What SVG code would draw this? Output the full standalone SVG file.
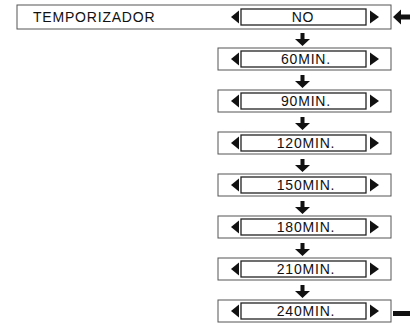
<svg xmlns="http://www.w3.org/2000/svg" width="410" height="325" viewBox="0 0 410 325">
<style>
.outer{fill:none;stroke:#555;stroke-width:1}
.inner{fill:#fff;stroke:#222;stroke-width:1.3}
.tri{fill:#111}
.lbl{font-family:"Liberation Sans",Arial,sans-serif;font-size:14px;fill:#111;letter-spacing:0.8px}
.val{font-family:"Liberation Sans",Arial,sans-serif;font-size:14px;fill:#111;text-anchor:middle;letter-spacing:0.8px}
.arr{fill:#111}
</style>
<defs>
<g id="sel">
<polygon class="tri" points="231,0 239,-6.5 239,6.5"/>
<rect class="inner" x="241" y="-8" width="125" height="16"/>
<polygon class="tri" points="370,-6.5 370,6.5 379,0"/>
</g>
<path id="down" d="M300.5,0 h4 v6 h5.5 l-7.5,7 l-7.5,-7 h5.5 z"/>
</defs>
<g id="timer-panel">
<rect class="outer" x="17" y="5" width="374" height="24"/>
<text class="lbl" x="33" y="22">TEMPORIZADOR</text>
<use href="#sel" transform="translate(0,17)"/>
<text class="val" x="303" y="22">NO</text>
</g>
<g id="opt-60">
<rect class="outer" x="218" y="48" width="173" height="22"/>
<use href="#sel" transform="translate(0,59)"/>
<text class="val" x="306" y="64">60MIN.</text>
</g>
<g id="opt-90">
<rect class="outer" x="218" y="90" width="173" height="22"/>
<use href="#sel" transform="translate(0,101)"/>
<text class="val" x="306" y="106">90MIN.</text>
</g>
<g id="opt-120">
<rect class="outer" x="218" y="132" width="173" height="22"/>
<use href="#sel" transform="translate(0,143)"/>
<text class="val" x="306" y="148">120MIN.</text>
</g>
<g id="opt-150">
<rect class="outer" x="218" y="174" width="173" height="22"/>
<use href="#sel" transform="translate(0,185)"/>
<text class="val" x="306" y="190">150MIN.</text>
</g>
<g id="opt-180">
<rect class="outer" x="218" y="216" width="173" height="22"/>
<use href="#sel" transform="translate(0,227)"/>
<text class="val" x="306" y="232">180MIN.</text>
</g>
<g id="opt-210">
<rect class="outer" x="218" y="258" width="173" height="22"/>
<use href="#sel" transform="translate(0,269)"/>
<text class="val" x="306" y="274">210MIN.</text>
</g>
<g id="opt-240">
<rect class="outer" x="218" y="300" width="173" height="22"/>
<use href="#sel" transform="translate(0,311)"/>
<text class="val" x="306" y="316">240MIN.</text>
</g>
<g id="connectors">
<use class="arr" href="#down" transform="translate(0,33)"/>
<use class="arr" href="#down" transform="translate(0,75)"/>
<use class="arr" href="#down" transform="translate(0,117)"/>
<use class="arr" href="#down" transform="translate(0,159)"/>
<use class="arr" href="#down" transform="translate(0,201)"/>
<use class="arr" href="#down" transform="translate(0,243)"/>
<use class="arr" href="#down" transform="translate(0,285)"/>
<path class="arr" d="M393,17 l8,-7.5 v5 h9 v5 h-9 v5 z"/>
<rect class="arr" x="393" y="311" width="17" height="5"/>
</g>
</svg>
